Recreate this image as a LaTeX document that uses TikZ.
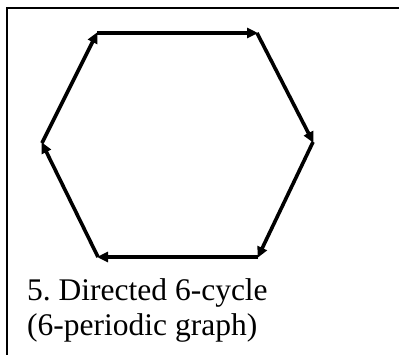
\documentclass[tikz,border=0pt]{standalone}
\usepackage{fontspec}
\setmainfont{Liberation Serif}
\usetikzlibrary{arrows.meta}
\frenchspacing
\tikzset{
  frame/.style={line width=2pt, black},
  edge/.style={line width=3.6pt, black, -{Triangle[length=11pt,width=10pt]}, shorten >=-1pt},
  label/.style={anchor=base west, inner sep=0pt, font=\fontsize{31.5}{35}\selectfont}
}
\begin{document}
\begin{tikzpicture}[x=1pt,y=-1pt]
\useasboundingbox (0,0) rectangle (399,354);
\fill[white] (0,0) rectangle (399,354);
\draw[frame] (6.5,360) -- (6.5,7.5) -- (405,7.5);
\coordinate (tl) at (97,33);
\coordinate (tr) at (257,33);
\coordinate (r) at (313,142);
\coordinate (br) at (258,257);
\coordinate (bl) at (98,257);
\coordinate (l) at (42,143);
\draw[edge] (tl) -- (tr);
\draw[edge] (tr) -- (r);
\draw[edge] (r) -- (br);
\draw[edge] (br) -- (bl);
\draw[edge] (bl) -- (l);
\draw[edge] (l) -- (tl);
\node[label] (t1) at (27,300) {5. Directed 6-cycle};
\node[label] (t2) at (27,335) {(6-periodic graph)};
\end{tikzpicture}
\end{document}
